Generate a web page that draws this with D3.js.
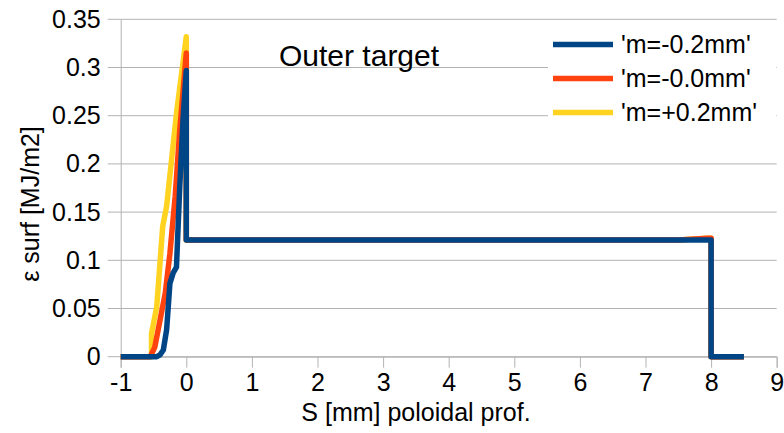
<!DOCTYPE html>
<html>
<head>
<meta charset="utf-8">
<script src="https://cdn.jsdelivr.net/npm/d3@7"></script>
<style>
    body { margin: 0; background: #fff; }
    text { font-family: "Liberation Sans", Arial, sans-serif; fill: #000; }
</style>
</head>
<body>
<div class="chart"></div>
<script>
// Chart size (matches the window)
let width = 784;
let height = 433;

// Margins for the plot area
let margin = { top: 19.3, right: 7.3, bottom: 76.3, left: 120.7 };

// Axis ticks
const xTicks = [-1, 0, 1, 2, 3, 4, 5, 6, 7, 8, 9];
const yTicks = [0, 0.05, 0.1, 0.15, 0.2, 0.25, 0.3, 0.35];

// Series names and colours
const seriesNames = ["'m=-0.2mm'", "'m=-0.0mm'", "'m=+0.2mm'"];
const seriesColors = ["#004586", "#ff420e", "#ffd320"];

// Values: [S, eps]
const mMinus02 = [
    [-1, 0], [-0.45, 0], [-0.40, 0.002], [-0.35, 0.007], [-0.30, 0.028], [-0.25, 0.076],
    [-0.20, 0.087], [-0.15, 0.093], [-0.10, 0.176], [-0.05, 0.246], [0, 0.297],
    [0, 0.121], [8, 0.121], [8, 0], [8.5, 0]
];
const mMinus00 = [
    [-1, 0], [-0.55, 0], [-0.48, 0.01], [-0.40, 0.038], [-0.32, 0.066], [-0.25, 0.107],
    [-0.17, 0.166], [-0.10, 0.235], [0, 0.315],
    [0, 0.121], [7.5, 0.121], [7.95, 0.123], [8, 0.123], [8, 0], [8.5, 0]
];
const mPlus02 = [
    [-1, 0], [-0.53, 0], [-0.53, 0.024], [-0.45, 0.052], [-0.36, 0.135], [-0.30, 0.156],
    [-0.15, 0.252], [0, 0.332],
    [0, 0.121], [7.5, 0.121], [7.95, 0.123], [8, 0.123], [8, 0], [8.5, 0]
];
const seriesData = [mMinus02, mMinus00, mPlus02];

let svg = d3.select(".chart").append("svg")
    .attr("width", width)
    .attr("height", height);

let innerW = width - margin.left - margin.right;
let innerH = height - margin.top - margin.bottom;

const xScale = d3.scaleLinear().domain([-1, 9]).range([0, innerW]);
const yScale = d3.scaleLinear().domain([0, 0.35]).range([innerH, 0]);

const g = svg.append("g")
    .attr("transform", `translate(${margin.left}, ${margin.top})`);

// Horizontal gridlines (they stick out a bit to the left like tick marks)
g.append("g")
    .selectAll("line")
    .data(yTicks)
    .enter().append("line")
    .attr("x1", -13)
    .attr("x2", innerW)
    .attr("y1", d => yScale(d))
    .attr("y2", d => yScale(d))
    .attr("stroke", "#b3b3b3")
    .attr("stroke-width", 1);

// Y axis labels
const yAxis = g.append("g")
    .call(d3.axisLeft(yScale).tickValues(yTicks).tickSize(0).tickPadding(20)
        .tickFormat(d => String(+d.toFixed(2))));
yAxis.select(".domain").attr("stroke", "#b3b3b3");
yAxis.selectAll("text").style("font-size", "25px");

// X axis (plain hyphen for the minus, like the original)
const xAxis = g.append("g")
    .attr("transform", `translate(0, ${innerH})`)
    .call(d3.axisBottom(xScale).tickValues(xTicks).tickSize(11).tickPadding(6)
        .tickFormat(d => String(d)));
xAxis.select(".domain").attr("stroke", "#b3b3b3");
xAxis.selectAll(".tick line").attr("stroke", "#b3b3b3");
xAxis.selectAll("text").style("font-size", "25px");

// Lines
const line = d3.line()
    .x(d => xScale(d[0]))
    .y(d => yScale(d[1]));

// draw yellow first so blue ends on top
for (let i = seriesData.length - 1; i >= 0; i--) {
    g.append("path")
        .datum(seriesData[i])
        .attr("d", line)
        .attr("fill", "none")
        .attr("stroke", seriesColors[i])
        .attr("stroke-width", 5.5)
        .attr("stroke-linejoin", "round");
}

// Title inside the plot
svg.append("text")
    .attr("x", 279)
    .attr("y", 66)
    .style("font-size", "30px")
    .text("Outer target");

// Legend with white background
const legend = svg.append("g");
legend.append("rect")
    .attr("x", 548)
    .attr("y", 26)
    .attr("width", 228)
    .attr("height", 100)
    .attr("fill", "#fff");

seriesNames.forEach(function (name, i) {
    let y = 44.5 + i * 34;
    legend.append("line")
        .attr("x1", 553).attr("x2", 613)
        .attr("y1", y).attr("y2", y)
        .attr("stroke", seriesColors[i])
        .attr("stroke-width", 5.5);
    legend.append("text")
        .attr("x", 621)
        .attr("y", y)
        .attr("dy", "0.35em")
        .style("font-size", "25px")
        .text(name);
});

// Axis titles
svg.append("text")
    .attr("x", 416)
    .attr("y", 421)
    .attr("text-anchor", "middle")
    .style("font-size", "25px")
    .text("S [mm] poloidal prof.");

svg.append("text")
    .attr("transform", "translate(39, 204) rotate(-90)")
    .attr("text-anchor", "middle")
    .style("font-size", "25px")
    .text("ε surf [MJ/m2]");
</script>
</body>
</html>
